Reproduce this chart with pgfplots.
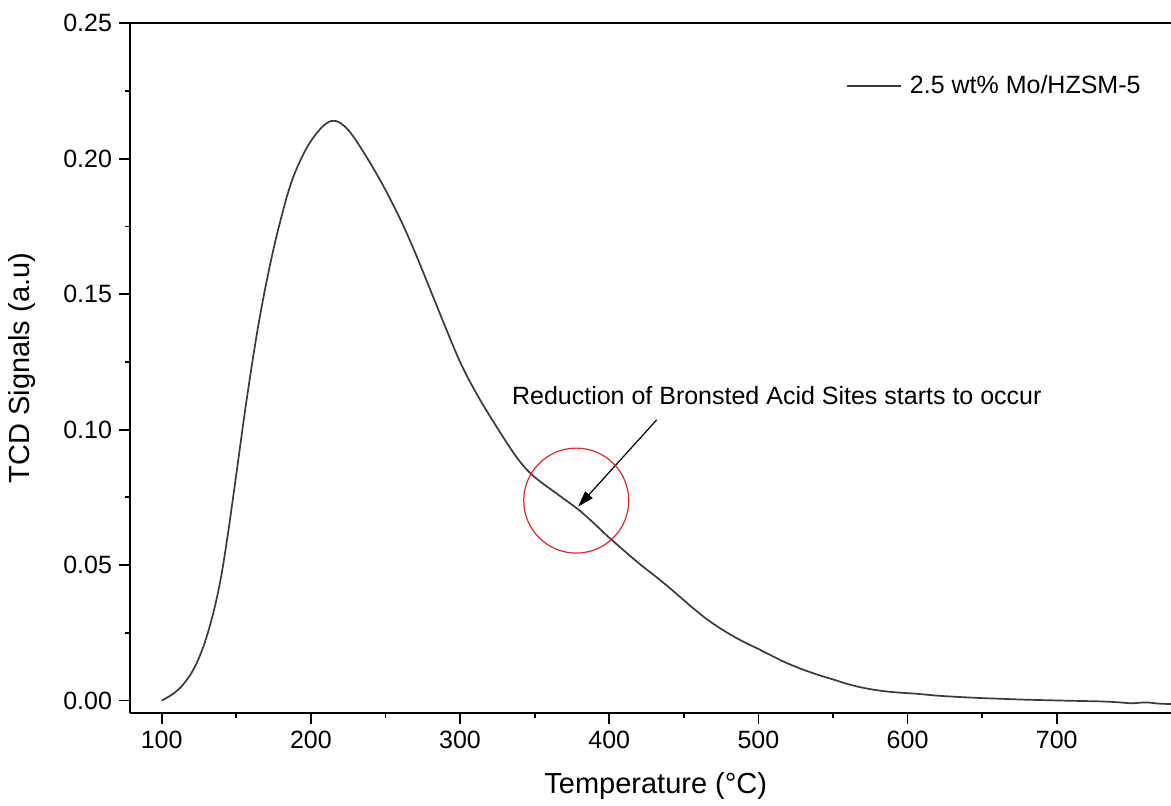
\documentclass[border=0pt]{standalone}
\usepackage{fontspec}
\setmainfont{Liberation Sans}
\usepackage{pgfplots}
\pgfplotsset{compat=1.18}
\usetikzlibrary{arrows.meta}
\definecolor{curve}{HTML}{3A3A3A}
\definecolor{circred}{HTML}{E0262B}
\begin{document}
\begin{tikzpicture}
\path[use as bounding box] (-65pt,-46.5pt) rectangle (520.5pt,356.5pt);
\begin{axis}[
  anchor=south west, at={(0pt,0pt)},
  scale only axis, width=520.5pt, height=344.85pt,
  xmin=78.75, xmax=776.6, ymin=-0.0046, ymax=0.25,
  axis x line*=box, axis y line*=left,
  axis line style={-, line width=0.9pt, black},
  xtick={100,200,300,400,500,600,700},
  ytick={0,0.05,0.1,0.15,0.2,0.25},
  minor x tick num=1, minor y tick num=1,
  tick align=outside, xtick pos=left, ytick pos=left,
  major tick length=5.5pt, minor tick length=2.5pt,
  every tick/.style={black, line width=0.9pt},
  /pgf/number format/assume math mode=true,
  ticklabel style={font=\fontsize{12.5}{14}\selectfont},
  yticklabel style={/pgf/number format/.cd, fixed, fixed zerofill, precision=2},
  xticklabel style={/pgf/number format/.cd, fixed, 1000 sep={}},
  every axis x label/.style={at={(axis description cs:0.505,-0.1058)}, anchor=center, font=\fontsize{14.5}{17}\selectfont},
  every axis y label/.style={at={(axis description cs:-0.1040,0.5)}, rotate=90, anchor=center, font=\fontsize{14.5}{17}\selectfont},
  xlabel={Temperature (°C)},
  ylabel={TCD Signals (a.u)},
  legend style={draw=none, fill=none, at={(axis description cs:0.6880,0.9087)}, anchor=west, inner sep=0pt, outer sep=0pt, font=\fontsize{12.5}{15}\selectfont, nodes={inner sep=0pt}, /tikz/every odd column/.append style={column sep=4pt}},
  legend image code/.code={\draw[#1] (0pt,0pt) -- (27pt,0pt);},
]
\addplot[curve, line width=0.85pt, no marks, smooth] coordinates {
(100,0.0000) (104,0.0012) (108,0.0026) (112,0.0045) (116,0.0070) (120,0.0102)
(124,0.0145) (128,0.0200) (132,0.0270) (136,0.0355) (140,0.0462) (144,0.0600)
(148,0.0755) (152,0.0915) (156,0.1075) (160,0.1222) (164,0.1360) (168,0.1482)
(172,0.1592) (176,0.1692) (180,0.1780) (184,0.1862) (188,0.1930) (192,0.1982)
(196,0.2028) (200,0.2065) (204,0.2095) (208,0.2120) (212,0.2136) (215,0.2140)
(218,0.2137) (222,0.2123) (226,0.2100) (230,0.2070) (235,0.2027) (240,0.1982)
(245,0.1935) (250,0.1885) (255,0.1832) (260,0.1776) (265,0.1716) (270,0.1652)
(275,0.1585) (280,0.1517) (285,0.1449) (290,0.1381) (295,0.1314) (300,0.1250)
(305,0.1194) (310,0.1143) (315,0.1095) (320,0.1050) (325,0.1006) (330,0.0963)
(335,0.0921) (340,0.0883) (345,0.0851) (350,0.0825) (355,0.0803) (360,0.0783)
(365,0.0763) (370,0.0743) (375,0.0723) (380,0.0702) (385,0.0678) (390,0.0653)
(395,0.0627) (400,0.0601) (410,0.0553) (420,0.0506) (432,0.0454) (440,0.0418)
(448,0.0380) (456,0.0342) (465,0.0302) (474,0.0268) (482,0.0241) (490,0.0217)
(499,0.0193) (508,0.0168) (516,0.0146) (524,0.0127) (532,0.0110) (541,0.0093)
(550,0.0078) (558,0.0064) (566,0.0052) (575,0.0042) (585,0.0034) (595,0.0029)
(606,0.0025) (620,0.0018) (635,0.0013) (650,0.0009) (665,0.0006) (680,0.0003)
(695,0.0001) (710,-0.0001) (728,-0.0003) (740,-0.0006) (750,-0.0010) (760,-0.0007)
(770,-0.0012) (786,-0.0013)
};
\addlegendentry{2.5 wt\% Mo/HZSM-5}
\node[anchor=base west, inner sep=0pt, font=\fontsize{12.5}{15}\selectfont] at (axis cs:334.6,0.1091) {Reduction of Bronsted Acid Sites starts to occur};
\draw[-{Triangle[length=8pt,width=5pt]}, line width=0.6pt, black] (axis cs:431.8,0.1036) -- (axis cs:379.2,0.0716);
\draw[circred, line width=0.6pt] (axis cs:377.9,0.0738) circle[radius=26.25pt];
\end{axis}
\end{tikzpicture}
\end{document}
